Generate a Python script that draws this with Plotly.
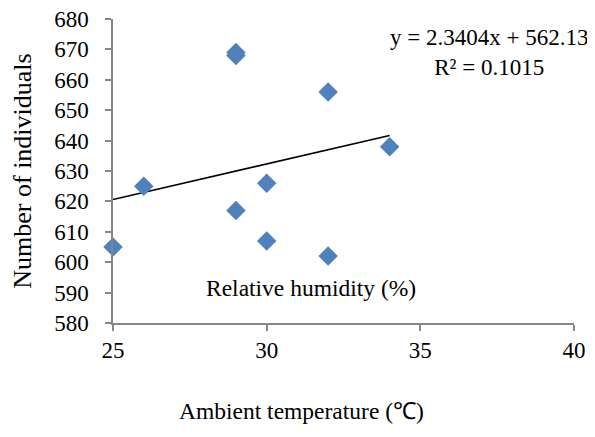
import plotly.graph_objects as go

temperature = [25, 26, 29, 29, 29, 30, 30, 32, 32, 34]
individuals = [605, 625, 669, 668, 617, 626, 607, 656, 602, 638]
trend_slope = 2.3404
trend_intercept = 562.13
trend_r2 = 0.1015
x_ticks = [25, 30, 35, 40]
y_ticks = list(range(580, 690, 10))

x_min, x_max = min(temperature), max(temperature)
trend_x = [x_min, x_max]
trend_y = [trend_slope * v + trend_intercept for v in trend_x]

FONT = "Liberation Serif, Times New Roman, serif"
AXIS_COLOR = "#868686"

fig = go.Figure()
fig.add_trace(go.Scatter(
    x=trend_x, y=trend_y, mode="lines",
    line=dict(color="black", width=1.6),
    showlegend=False, hoverinfo="skip"))
fig.add_trace(go.Scatter(
    x=temperature, y=individuals, mode="markers",
    marker=dict(symbol="diamond", size=15, color="#4F81BD",
                line=dict(width=0)),
    cliponaxis=False, showlegend=False))

fig.add_annotation(
    x=37.25, y=669, xref="x", yref="y",
    text=f"y = {trend_slope}x + {trend_intercept}<br>R² = {trend_r2}",
    showarrow=False, align="center",
    font=dict(family=FONT, size=23, color="black"))
fig.add_annotation(
    x=31.45, y=591.5, xref="x", yref="y",
    text="Relative humidity (%)", showarrow=False,
    font=dict(family=FONT, size=23.5, color="black"))
fig.add_annotation(
    x=0.408, y=-0.2895, xref="paper", yref="paper",
    xanchor="center", yanchor="middle",
    text="Ambient temperature (℃)", showarrow=False,
    font=dict(family=FONT, size=23.5, color="black"))

fig.update_layout(
    width=587, height=429,
    margin=dict(l=105, r=21, t=11, b=114, autoexpand=False),
    paper_bgcolor="white", plot_bgcolor="white",
    font=dict(family=FONT, size=23, color="black"),
    xaxis=dict(
        range=[25, 40], tickvals=x_ticks, showgrid=False, zeroline=False,
        showline=True, linecolor=AXIS_COLOR, linewidth=1.5,
        ticks="outside", ticklen=6, tickcolor=AXIS_COLOR, tickwidth=1.5,
        ticklabeloverflow="allow"),
    yaxis=dict(
        range=[580, 680], tickvals=y_ticks, showgrid=False, zeroline=False,
        showline=True, linecolor=AXIS_COLOR, linewidth=1.5,
        ticks="outside", ticklen=6, tickcolor=AXIS_COLOR, tickwidth=1.5,
        ticklabeloverflow="allow", ticklabelstandoff=12,
        title=dict(text="Number of individuals", standoff=19,
                   font=dict(family=FONT, size=26))),
)

fig.write_html("out.html")
